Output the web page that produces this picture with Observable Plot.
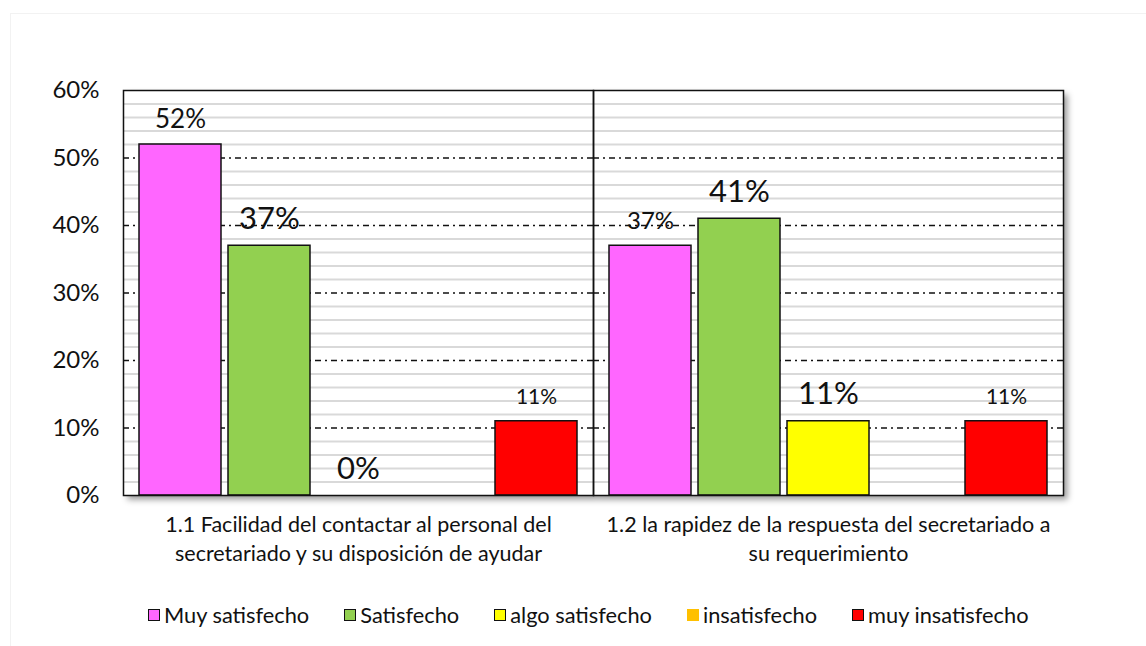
<!DOCTYPE html>
<html>
<head>
<meta charset="utf-8">
<script src="https://cdn.jsdelivr.net/npm/d3@7"></script>
<script src="https://cdn.jsdelivr.net/npm/@observablehq/plot@0.6"></script>
<style>
  html, body { margin: 0; padding: 0; background: #fff; }
  body { width: 1146px; height: 646px; position: relative; overflow: hidden; font-family: Lato, "Open Sans", sans-serif; }
  #border { position: absolute; left: 10px; top: 13px; right: -5px; bottom: -5px; border: 1px solid #f2f2f2; }
  #chart { position: absolute; left: 0; top: 0; }
  #legend { position: absolute; left: 148px; top: 601px; display: flex; gap: 35px; font-size: 21.8px; color: #111; }
  .item { display: flex; align-items: center; white-space: nowrap; }
  .sw { width: 10px; height: 10px; margin-right: 4px; }
</style>
</head>
<body>
<div id="border"></div>
<div id="chart"></div>
<div id="legend"></div>
<script>
const categories = ["Muy satisfecho", "Satisfecho", "algo satisfecho", "insatisfecho", "muy insatisfecho"];
const questions = [
  "1.1 Facilidad del contactar al personal del\nsecretariado y su disposición de ayudar",
  "1.2 la rapidez de la respuesta del secretariado a\nsu requerimiento"
];
const q1Values = [52, 37, 0, null, 11];
const q2Values = [37, 41, 11, null, 11];
const colors = ["#FF66FF", "#92D050", "#FFFF00", "#FFC000", "#FF0000"];
const yTicks = [0, 10, 20, 30, 40, 50, 60];

// label font sizes (style only)
const labelSizes = [[26, 31, 31, 0, 21], [24, 31, 31, 0, 21]];

const data = [];
[q1Values, q2Values].forEach((vals, qi) => {
  vals.forEach((v, ci) => {
    if (v !== null) data.push({question: questions[qi], category: categories[ci], value: v, size: labelSizes[qi][ci]});
  });
});
const barData = data.filter(d => d.value > 0);
const minor = d3.range(2, 60, 2).filter(v => v % 10 !== 0);
const major = [10, 20, 30, 40, 50];

const plot = Plot.plot({
  width: 1146,
  height: 585,
  marginLeft: 122,
  marginRight: 83,
  marginTop: 90,
  marginBottom: 90,
  style: {fontFamily: "Lato, 'Open Sans', sans-serif", color: "#111", background: "transparent", overflow: "visible"},
  fx: {domain: questions, padding: 0, label: null},
  x: {domain: categories, paddingInner: 0.08, paddingOuter: 0.17, axis: null},
  y: {domain: [0, 60], axis: null},
  color: {domain: categories, range: colors},
  marks: [
    Plot.frame({fill: "white", stroke: "none"}),
    Plot.ruleY(minor, {stroke: "#d9d9d9", strokeWidth: 2}),
    Plot.ruleY(major, {stroke: "#111", strokeWidth: 1.5, strokeDasharray: "6,4,2,4"}),
    Plot.barY(barData, {fx: "question", x: "category", y: "value", fill: "category", stroke: "#111", strokeWidth: 1.5}),
    Plot.text(data, {fx: "question", x: "category", y: "value", text: d => d.value + "%", fontSize: "size", lineAnchor: "bottom", dy: -17, fill: "#111"}),
    Plot.frame({stroke: "#111", strokeWidth: 1.5}),
    Plot.axisY({ticks: yTicks, tickSize: 0, tickPadding: 24, tickFormat: d => d + "%", fontSize: 24, label: null}),
    Plot.axisFx({anchor: "bottom", tickSize: 0, tickPadding: 16, fontSize: 21.5, lineHeight: 1.35, label: null})
  ]
});
document.getElementById("chart").appendChild(plot);

// drop shadow on the plot-area background
plot.querySelectorAll('[aria-label="frame"]').forEach(g => {
  if (g.getAttribute("fill") === "white" || g.querySelector('[fill="white"]')) {
    g.style.filter = "drop-shadow(4px 4px 3px rgba(0,0,0,0.4))";
  }
});

// legend
const legend = document.getElementById("legend");
categories.forEach((c, i) => {
  const item = document.createElement("div");
  item.className = "item";
  const sw = document.createElement("span");
  sw.className = "sw";
  sw.style.background = colors[i];
  const hasBars = data.some(d => d.category === c && d.value > 0);
  sw.style.border = hasBars ? "1.5px solid #111" : "1.5px solid " + colors[i];
  const t = document.createElement("span");
  t.textContent = c;
  item.appendChild(sw);
  item.appendChild(t);
  legend.appendChild(item);
});
</script>
</body>
</html>
